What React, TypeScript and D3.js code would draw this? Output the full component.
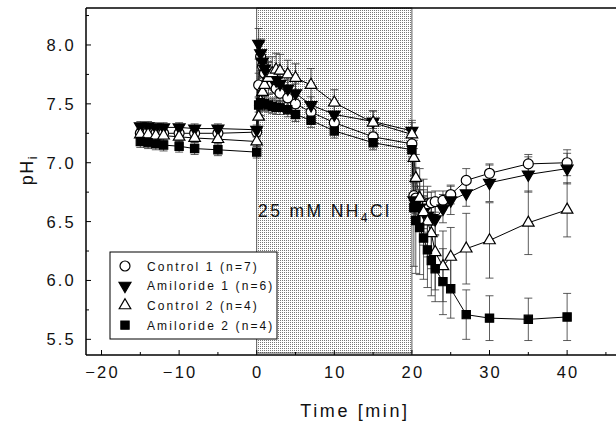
import React from "react";
import * as d3 from "d3";

const times = [-15, -14, -13, -12, -10, -8, -5, 0,
  0.25, 0.5, 0.75, 1, 1.5, 2, 2.5, 3, 4, 5, 7, 10, 15, 20,
  20.25, 20.5, 21, 21.5, 22, 22.5, 23, 24, 25, 27, 30, 35, 40];

const control1 = [7.25, 7.26, 7.25, 7.25, 7.25, 7.25, 7.25, 7.26,
  7.66, 7.90, 7.82, 7.76, 7.71, 7.67, 7.63, 7.59, 7.55, 7.50, 7.43, 7.34, 7.22, 7.16,
  6.72, 6.70, 6.68, 6.66, 6.65, 6.66, 6.67, 6.68, 6.73, 6.85, 6.91, 6.99, 7.00];
const control1Err = [0.04, 0.04, 0.04, 0.04, 0.04, 0.04, 0.04, 0.04,
  0.10, 0.12, 0.10, 0.09, 0.08, 0.08, 0.08, 0.07, 0.07, 0.07, 0.07, 0.07, 0.07, 0.08,
  0.14, 0.13, 0.12, 0.11, 0.10, 0.09, 0.09, 0.08, 0.08, 0.10, 0.07, 0.08, 0.11];

const amiloride1 = [7.31, 7.31, 7.30, 7.30, 7.30, 7.29, 7.29, 7.28,
  8.01, 7.93, 7.86, 7.80, 7.76, 7.72, 7.70, 7.67, 7.63, 7.59, 7.49, 7.41, 7.35, 7.27,
  6.68, 6.65, 6.62, 6.58, 6.55, 6.53, 6.52, 6.61, 6.68, 6.74, 6.83, 6.90, 6.95];
const amiloride1Err = [0.04, 0.04, 0.04, 0.04, 0.04, 0.04, 0.04, 0.04,
  0.13, 0.12, 0.10, 0.10, 0.09, 0.09, 0.09, 0.08, 0.08, 0.08, 0.07, 0.07, 0.09, 0.09,
  0.15, 0.15, 0.15, 0.14, 0.14, 0.13, 0.13, 0.12, 0.12, 0.11, 0.16, 0.15, 0.13];

const control2 = [7.24, 7.24, 7.23, 7.23, 7.22, 7.21, 7.20, 7.18,
  7.39, 7.52, 7.60, 7.66, 7.72, 7.76, 7.79, 7.78, 7.75, 7.72, 7.66, 7.51, 7.34, 7.24,
  7.04, 6.87, 6.70, 6.58, 6.50, 6.40, 6.24, 6.12, 6.20, 6.27, 6.34, 6.49, 6.60];
const control2Err = [0.04, 0.04, 0.04, 0.04, 0.04, 0.04, 0.04, 0.04,
  0.10, 0.12, 0.13, 0.14, 0.14, 0.14, 0.14, 0.14, 0.12, 0.12, 0.14, 0.11, 0.10, 0.10,
  0.15, 0.20, 0.25, 0.28, 0.30, 0.30, 0.32, 0.30, 0.25, 0.30, 0.32, 0.27, 0.23];

const amiloride2 = [7.18, 7.17, 7.16, 7.15, 7.14, 7.12, 7.11, 7.09,
  7.49, 7.51, 7.50, 7.50, 7.49, 7.48, 7.47, 7.47, 7.45, 7.41, 7.36, 7.27, 7.17, 7.11,
  6.62, 6.51, 6.45, 6.36, 6.26, 6.17, 6.10, 5.99, 5.93, 5.71, 5.68, 5.67, 5.69];
const amiloride2Err = [0.05, 0.05, 0.05, 0.05, 0.05, 0.05, 0.05, 0.05,
  0.06, 0.06, 0.06, 0.06, 0.06, 0.06, 0.06, 0.06, 0.06, 0.06, 0.06, 0.06, 0.06, 0.06,
  0.50, 0.45, 0.40, 0.35, 0.32, 0.30, 0.28, 0.28, 0.25, 0.21, 0.19, 0.18, 0.20];

const seriesNames = ["Control 1 (n=7)", "Amiloride 1 (n=6)", "Control 2 (n=4)", "Amiloride 2 (n=4)"];
const xTicks = [-20, -10, 0, 10, 20, 30, 40];
const yTicks = [5.5, 6.0, 6.5, 7.0, 7.5, 8.0];
const pulseStart = 0;
const pulseEnd = 20;

const FONT = "'Liberation Sans', Arial, sans-serif";

type SymKind = "circle" | "down" | "up" | "square";

function symbolPath(kind: SymKind): string {
  if (kind === "circle") return d3.symbol().type(d3.symbolCircle).size(78)()!;
  if (kind === "square") return d3.symbol().type(d3.symbolSquare).size(68)()!;
  return d3.symbol().type(d3.symbolTriangle).size(kind === "down" ? 62 : 58)()!;
}

function Marker({ kind, cx, cy }: { kind: SymKind; cx: number; cy: number }) {
  const filled = kind === "down" || kind === "square";
  const rot = kind === "down" ? " rotate(180)" : "";
  return (
    <path
      d={symbolPath(kind)}
      transform={`translate(${cx},${cy})${rot}`}
      fill={filled ? "#000" : "#fff"}
      stroke="#000"
      strokeWidth={1.2}
    />
  );
}

export default function App() {
  const W = 616, H = 423;
  const left = 86, right = 616, top = 8, bottom = 355;
  const x = d3.scaleLinear().domain([-22, 46.3]).range([left, right]);
  const y = d3.scaleLinear().domain([5.367, 8.314]).range([bottom, top]);

  const series: { vals: number[]; errs: number[]; kind: SymKind }[] = [
    { vals: control1, errs: control1Err, kind: "circle" },
    { vals: amiloride1, errs: amiloride1Err, kind: "down" },
    { vals: control2, errs: control2Err, kind: "up" },
    { vals: amiloride2, errs: amiloride2Err, kind: "square" },
  ];

  const line = d3.line<number>().x((_, i) => x(times[i])).y((v) => y(v));

  const xMinor = d3.range(-20, 46, 5);
  const yMinor = d3.range(5.5, 8.26, 0.25);

  return (
    <svg width={W} height={H} style={{ position: "absolute", left: 0, top: 0 }} fontFamily={FONT}>
      <defs>
        <pattern id="stipple" width="2" height="2" patternUnits="userSpaceOnUse">
          <rect width="2" height="2" fill="#fff" />
          <rect width="1" height="1" fill="#777" />
        </pattern>
      </defs>
      <rect width={W} height={H} fill="#fff" />
      {/* shaded NH4Cl period */}
      <rect
        x={x(pulseStart)}
        y={top}
        width={x(pulseEnd) - x(pulseStart)}
        height={bottom - 2 - top}
        fill="url(#stipple)"
        stroke="#333"
        strokeWidth={0.8}
      />
      <text x={258} y={217} fontSize={17.5} letterSpacing={2.4} fill="#111">
        25 mM NH<tspan fontSize={12} dy={5}>4</tspan><tspan dy={-5}>Cl</tspan>
      </text>

      {/* lines */}
      {series.map((s, si) => (
        <path key={"l" + si} d={line(s.vals)!} fill="none" stroke="#000" strokeWidth={1} />
      ))}
      {/* error bars */}
      {series.map((s, si) => (
        <g key={"e" + si} stroke="#333" strokeWidth={0.8}>
          {s.vals.map((v, i) => {
            const cx = x(times[i]);
            const y1 = y(v + s.errs[i]);
            const y2 = y(v - s.errs[i]);
            return (
              <g key={i}>
                <line x1={cx} x2={cx} y1={y1} y2={y2} />
                <line x1={cx - 4} x2={cx + 4} y1={y1} y2={y1} />
                <line x1={cx - 4} x2={cx + 4} y1={y2} y2={y2} />
              </g>
            );
          })}
        </g>
      ))}
      {/* markers */}
      {series.map((s, si) => (
        <g key={"m" + si}>
          {s.vals.map((v, i) => (
            <Marker key={i} kind={s.kind} cx={x(times[i])} cy={y(v)} />
          ))}
        </g>
      ))}

      {/* axes frame */}
      <line x1={left} x2={right} y1={top} y2={top} stroke="#000" strokeWidth={1.5} />
      <line x1={left} x2={left} y1={top} y2={bottom} stroke="#000" strokeWidth={1.5} />
      <line x1={left} x2={right} y1={bottom} y2={bottom} stroke="#000" strokeWidth={1.5} />

      {/* x ticks */}
      {xMinor.map((t) => (
        <line key={"xm" + t} x1={x(t)} x2={x(t)} y1={bottom} y2={bottom - (t % 10 === 0 ? 5 : 3)} stroke="#000" strokeWidth={1} />
      ))}
      {xTicks.map((t) => (
        <text key={"xt" + t} x={x(t) + 1} y={378} fontSize={16.5} letterSpacing={2.2} textAnchor="middle" fill="#111">
          {t < 0 ? "\u2212" + Math.abs(t) : String(t)}
        </text>
      ))}
      {/* y ticks */}
      {yMinor.map((v) => (
        <line key={"ym" + v} x1={left} x2={left + (Math.abs((v * 2) % 1) < 0.01 ? 5 : 3)} y1={y(v)} y2={y(v)} stroke="#000" strokeWidth={1} />
      ))}
      {yTicks.map((v) => (
        <text key={"yt" + v} x={76} y={y(v) + 6} fontSize={16.5} letterSpacing={2.2} textAnchor="end" fill="#111">
          {v.toFixed(1)}
        </text>
      ))}

      {/* axis titles */}
      <text x={355} y={417} fontSize={18} letterSpacing={2.6} textAnchor="middle" fill="#111">
        Time [min]
      </text>
      <text transform="translate(33,170) rotate(-90)" fontSize={18} textAnchor="middle" letterSpacing={1.5} fill="#111">
        pH<tspan fontSize={13} dy={4}>i</tspan>
      </text>

      {/* legend */}
      <rect x={110} y={252} width={167} height={87} fill="#fff" stroke="#000" strokeWidth={1} />
      {seriesNames.map((name, i) => {
        const cy = 266 + i * 19.7;
        return (
          <g key={"lg" + i}>
            <Marker kind={series[i].kind} cx={125} cy={cy} />
            <text x={147} y={cy + 4.5} fontSize={12} letterSpacing={2.1} fill="#111">
              {name}
            </text>
          </g>
        );
      })}
    </svg>
  );
}
